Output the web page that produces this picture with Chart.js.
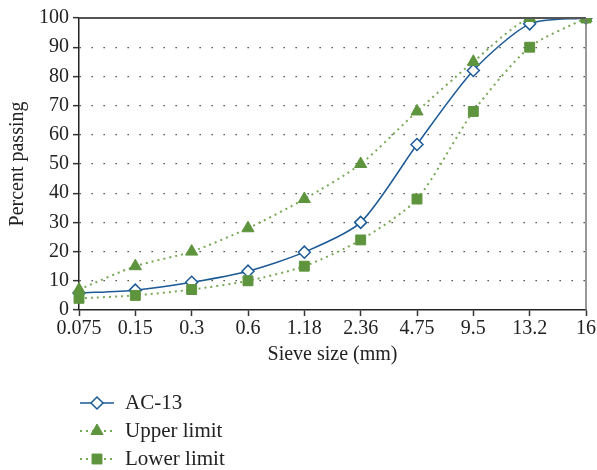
<!DOCTYPE html>
<html>
<head>
<meta charset="utf-8">
<script src="https://cdn.jsdelivr.net/npm/chart.js@4/dist/chart.umd.min.js"></script>
<style>
  html, body { margin: 0; padding: 0; background: #fff; }
  #wrap { width: 597px; height: 470px; position: relative; }
</style>
</head>
<body>
<div id="wrap"><canvas id="chart"></canvas></div>
<script>
/* Gradation chart */

const sieveSizes = ['0.075', '0.15', '0.3', '0.6', '1.18', '2.36', '4.75', '9.5', '13.2', '16'];
const ac13 = [5.8, 6.8, 9.5, 13.3, 19.8, 30, 56.7, 82, 98, 100];
const upperLimit = [7, 15, 20, 28, 38, 50, 68, 85, 100, 100];
const lowerLimit = [4, 5, 7, 10, 15, 24, 38, 68, 90, 100];

const FONT = 'Liberation Serif';
const BLUE = '#1c5a96';
const GREEN = '#5e943d';
const GREEN_LINE = '#78a956';

// draws the top and right frame lines
const framePlugin = {
  id: 'frame',
  afterDraw(chart) {
    const { ctx, chartArea } = chart;
    ctx.save();
    ctx.strokeStyle = '#555';
    ctx.lineWidth = 2;
    ctx.beginPath();
    ctx.moveTo(chartArea.left, chartArea.top);
    ctx.lineTo(chartArea.right, chartArea.top);
    ctx.stroke();
    ctx.lineWidth = 1.5;
    ctx.strokeStyle = '#777';
    ctx.beginPath();
    ctx.moveTo(chartArea.right, chartArea.top);
    ctx.lineTo(chartArea.right, chartArea.bottom);
    ctx.stroke();
    ctx.restore();
  }
};

// vertical legend under the x axis title
const legendPlugin = {
  id: 'vlegend',
  afterDraw(chart) {
    const { ctx, chartArea } = chart;
    const x0 = chartArea.left + 1;
    let y = chartArea.bottom + 93;
    ctx.save();
    chart.data.datasets.forEach(ds => {
      ctx.strokeStyle = ds.borderColor;
      ctx.lineWidth = ds.borderWidth;
      ctx.setLineDash(ds.borderDash || []);
      ctx.beginPath();
      ctx.moveTo(x0, y);
      ctx.lineTo(x0 + 34, y);
      ctx.stroke();
      ctx.setLineDash([]);
      ctx.fillStyle = ds.pointBackgroundColor;
      ctx.strokeStyle = ds.pointBorderColor;
      ctx.lineWidth = ds.pointBorderWidth;
      Chart.helpers.drawPoint(ctx, { pointStyle: ds.pointStyle, radius: ds.pointRadius, rotation: 0, borderWidth: ds.pointBorderWidth }, x0 + 17, y);
      ctx.fillStyle = '#222';
      ctx.font = `21px "${FONT}"`;
      ctx.textBaseline = 'middle';
      ctx.fillText(ds.label, x0 + 45, y);
      y += 28;
    });
    ctx.restore();
  }
};

new Chart(document.getElementById('chart'), {
  type: 'line',
  data: {
    labels: sieveSizes,
    datasets: [{
      label: 'AC-13',
      data: ac13,
      borderColor: BLUE,
      borderWidth: 1.5,
      tension: 0.25,
      pointStyle: 'rectRot',
      pointRadius: 6,
      pointBackgroundColor: '#fff',
      pointBorderColor: BLUE,
      pointBorderWidth: 1.5,
      order: 3
    }, {
      label: 'Upper limit',
      data: upperLimit,
      borderColor: GREEN_LINE,
      borderWidth: 2,
      borderDash: [2, 4],
      tension: 0.25,
      pointStyle: 'triangle',
      pointRadius: 7,
      pointBackgroundColor: GREEN,
      pointBorderColor: GREEN,
      pointBorderWidth: 1,
      order: 2
    }, {
      label: 'Lower limit',
      data: lowerLimit,
      borderColor: GREEN_LINE,
      borderWidth: 2,
      borderDash: [2, 4],
      tension: 0.25,
      pointStyle: 'rect',
      pointRadius: 7,
      pointBackgroundColor: GREEN,
      pointBorderColor: GREEN,
      pointBorderWidth: 1,
      order: 1
    }]
  },
  options: {
    responsive: true,
    maintainAspectRatio: false,
    animation: false,
    layout: { padding: { left: 0, top: 18, right: 11, bottom: 103 } },
    plugins: {
      legend: { display: false },
      tooltip: { enabled: false }
    },
    scales: {
      x: {
        offset: false,
        afterFit: scale => { scale.height = 57; },
        grid: {
          drawOnChartArea: false,
          drawTicks: true,
          tickLength: 6,
          tickColor: '#333',
          tickWidth: 1.5
        },
        border: { color: '#222', width: 1.5 },
        ticks: {
          color: '#222',
          font: { family: FONT, size: 20 },
          padding: 1,
          maxRotation: 0,
          autoSkip: false
        },
        title: {
          display: true,
          text: 'Sieve size (mm)',
          color: '#222',
          font: { family: FONT, size: 20 },
          padding: { top: 0, bottom: 0 }
        }
      },
      y: {
        min: 0,
        max: 100,
        afterFit: scale => { scale.width = 79; },
        grid: {
          color: c => (c.tick.value === 0 || c.tick.value === 100) ? 'rgba(0,0,0,0)' : '#333',
          lineWidth: 1.3,
          drawTicks: true,
          tickLength: 6,
          tickColor: '#333',
          tickWidth: 1.5,
          tickBorderDash: []
        },
        border: { color: '#222', width: 1.5, dash: [1.3, 10.7] },
        ticks: {
          stepSize: 10,
          color: '#222',
          font: { family: FONT, size: 20 },
          padding: 4
        },
        title: {
          display: true,
          text: 'Percent passing',
          color: '#222',
          font: { family: FONT, size: 20 },
          padding: { top: 6, bottom: 0 }
        }
      }
    }
  },
  plugins: [framePlugin, legendPlugin]
});
</script>
</body>
</html>
